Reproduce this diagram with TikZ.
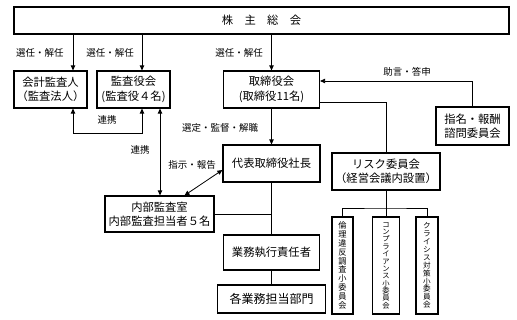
\documentclass[tikz,border=0pt]{standalone}
\usepackage{fontspec}
\setmainfont{Noto Sans CJK JP}
\usepackage{tikz}
\usetikzlibrary{arrows.meta,calc}

\begin{document}
\begin{tikzpicture}[x=1pt,y=-1pt,
    box/.style={draw,line width=1.2pt,align=center,inner sep=0pt,font=\fontsize{11.3}{14.5}\selectfont},
    tate/.style={draw,line width=1.2pt,align=center,inner sep=0pt,minimum height=97pt},
    lbl/.style={inner sep=0pt,font=\fontsize{9.5}{11}\selectfont},
    conn/.style={line width=0.8pt},
    arr/.style={conn,-{Triangle[length=5pt,width=4.5pt]}},
    arrb/.style={conn,{Triangle[length=5pt,width=4.5pt]}-{Triangle[length=5pt,width=4.5pt]}}]

    \useasboundingbox (0,0) rectangle (517,320);

    \coordinate (colA) at (73,0);
    \coordinate (colB) at (142,0);
    \coordinate (colC) at (160,0);
    \coordinate (bus) at (0,208);

    \node[box,minimum width=495pt,minimum height=27pt] (soukai) at (261.5,20.5) {株　主　総　会};

    \node[box,minimum width=73pt,minimum height=37pt] (kaikei) at (50.5,89.5) {会計監査人\\（監査法人）};
    \node[box,minimum width=73pt,minimum height=37pt] (kansa) at (133.5,89.5) {監査役会\\(監査役４名)};
    \node[box,minimum width=96pt,minimum height=37pt] (torishimari) at (271.5,89.5) {取締役会\\(取締役11名)};
    \node[box,minimum width=73pt,minimum height=38pt] (shimei) at (472.5,126) {指名・報酬\\諮問委員会};
    \node[box,minimum width=97pt,minimum height=37pt] (daihyo) at (271.5,163.5) {代表取締役社長};
    \node[box,minimum width=109pt,minimum height=36pt] (naibu) at (159.5,214) {内部監査室\\内部監査担当者５名};
    \node[box,minimum width=108pt,minimum height=37pt] (risk) at (386,171.5) {リスク委員会\\（経営会議内設置）};
    \node[box,minimum width=96pt,minimum height=35pt] (gyomu) at (271.5,252.5) {業務執行責任者};
    \node[box,minimum width=108pt,minimum height=28pt,font=\fontsize{12}{14}\selectfont] (kakubu) at (271.5,299) {各業務担当部門};

    % vertical boxes under the risk committee
    \node[tate,minimum width=21pt,font=\fontsize{8.2}{8.8}\selectfont] (rinri) at (342.5,265.5)
        {倫\\理\\違\\反\\調\\査\\小\\委\\員\\会};
    \node[tate,minimum width=27pt,font=\fontsize{7.3}{7.35}\selectfont] (compl) at (386,265.5)
        {コ\\ン\\プ\\ラ\\イ\\ア\\ン\\ス\\小\\委\\員\\会};
    \node[tate,minimum width=22pt,font=\fontsize{7.6}{7.9}\selectfont] (crisis) at (427,265.5)
        {ク\\ラ\\イ\\シ\\ス\\対\\策\\小\\委\\員\\会};

    \draw[arr] (soukai.south -| colA) -- (kaikei.north -| colA);
    \draw[arr] (soukai.south -| colB) -- (kansa.north -| colB);
    \draw[arr] (soukai.south -| torishimari.north) -- (torishimari.north);
    \draw[arrb] (kaikei.south -| colA) -- ++(0,25) -| (kansa.south -| colB);
    \draw[arrb] (kansa.south -| colC) -- (naibu.north -| colC);
    \draw[arr] (torishimari.south) -- (daihyo.north);
    \draw[arrb] ([xshift=25pt]naibu.north) -- ([yshift=-6.5pt]daihyo.west);
    \draw[conn] (daihyo.south) -- (gyomu.north);
    \draw[conn] (naibu.east) -- (naibu.east -| daihyo.south);
    \draw[conn] (gyomu.south) -- (kakubu.north);
    \draw[arr] (shimei.north) |- ([yshift=8.5pt]torishimari.east);
    \draw[conn] ([yshift=-12.5pt]torishimari.east) -| (risk.north);
    \draw[conn] (risk.south) -- (compl.north);
    \draw[conn] (rinri.north) |- (bus -| risk.south) -| (crisis.north);

    \node[lbl] (sennin1) at (40,53) {選任・解任};
    \node[lbl] (sennin2) at (110,53) {選任・解任};
    \node[lbl] (sennin3) at (239,53) {選任・解任};
    \node[lbl] (renkei1) at (107,120) {連携};
    \node[lbl] (renkei2) at (140,150) {連携};
    \node[lbl] (sentei) at (220,128) {選定・監督・解職};
    \node[lbl] (shiji) at (192,165) {指示・報告};
    \node[lbl] (jogen) at (407,72) {助言・答申};
\end{tikzpicture}
\end{document}
